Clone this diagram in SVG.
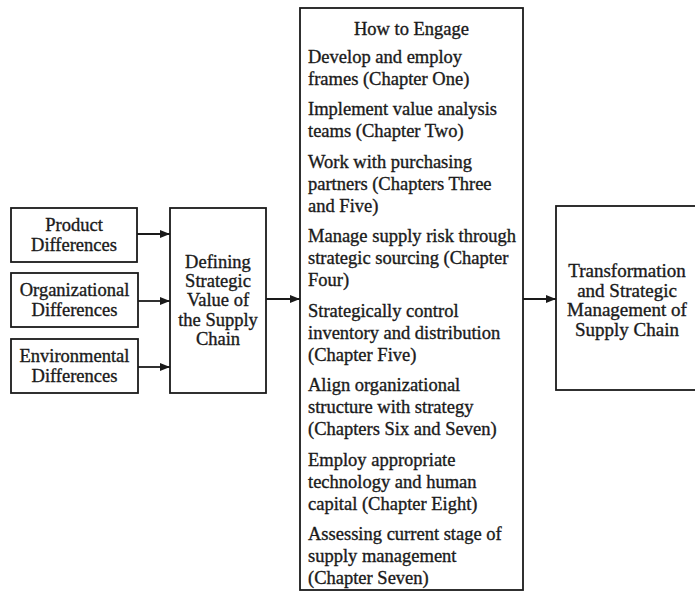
<svg xmlns="http://www.w3.org/2000/svg" width="695" height="592" viewBox="0 0 695 592">
  <style>
    .box { fill: #ffffff; stroke: #1a1a1a; stroke-width: 1.8; }
    .t { font-family: "Liberation Serif", "Times New Roman", serif; font-size: 18.5px; fill: #1a1a1a; stroke: #1a1a1a; stroke-width: 0.35; }
    .c { text-anchor: middle; }
    .big { font-size: 19px; }
    .link { stroke: #1a1a1a; stroke-width: 1.8; fill: none; marker-end: url(#arrow); }
  </style>
  <defs>
    <marker id="arrow" viewBox="0 0 10 8" refX="10" refY="4" markerWidth="10" markerHeight="8" markerUnits="userSpaceOnUse" orient="auto">
      <path d="M0,0 L10,4 L0,8 Z" fill="#1a1a1a"/>
    </marker>
  </defs>
  <rect width="695" height="592" fill="#ffffff"/>

  <!-- input factors -->
  <g id="product">
    <rect class="box" x="11" y="208" width="126" height="54"/>
    <text class="t c" x="74" y="230.5">Product</text>
    <text class="t c" x="74" y="250.5">Differences</text>
  </g>
  <g id="organizational">
    <rect class="box" x="11" y="273" width="127" height="54"/>
    <text class="t c" x="74.5" y="295.5">Organizational</text>
    <text class="t c" x="74.5" y="315.5">Differences</text>
  </g>
  <g id="environmental">
    <rect class="box" x="11" y="339" width="127" height="54"/>
    <text class="t c" x="74.5" y="361.5">Environmental</text>
    <text class="t c" x="74.5" y="381.5">Differences</text>
  </g>

  <!-- strategic value -->
  <g id="defining">
    <rect class="box" x="170" y="208" width="96" height="185"/>
    <text class="t c" x="218" y="267.5">Defining</text>
    <text class="t c" x="218" y="286.5">Strategic</text>
    <text class="t c" x="218" y="306">Value of</text>
    <text class="t c" x="218" y="325.5">the Supply</text>
    <text class="t c" x="218" y="345">Chain</text>
  </g>

  <!-- engagement list -->
  <g id="how-to-engage">
    <rect class="box" x="300" y="8" width="223" height="582"/>
    <text class="t c" x="411.5" y="34.5">How to Engage</text>
    <text class="t" x="308" y="62.5">Develop and employ</text>
    <text class="t" x="308" y="84.5">frames (Chapter One)</text>
    <text class="t" x="308" y="115">Implement value analysis</text>
    <text class="t" x="308" y="137">teams (Chapter Two)</text>
    <text class="t" x="308" y="167.5">Work with purchasing</text>
    <text class="t" x="308" y="189.5">partners (Chapters Three</text>
    <text class="t" x="308" y="211.5">and Five)</text>
    <text class="t" x="308" y="242">Manage supply risk through</text>
    <text class="t" x="308" y="264">strategic sourcing (Chapter</text>
    <text class="t" x="308" y="286">Four)</text>
    <text class="t" x="308" y="316.5">Strategically control</text>
    <text class="t" x="308" y="338.5">inventory and distribution</text>
    <text class="t" x="308" y="360.5">(Chapter Five)</text>
    <text class="t" x="308" y="391">Align organizational</text>
    <text class="t" x="308" y="413">structure with strategy</text>
    <text class="t" x="308" y="435">(Chapters Six and Seven)</text>
    <text class="t" x="308" y="465.5">Employ appropriate</text>
    <text class="t" x="308" y="487.5">technology and human</text>
    <text class="t" x="308" y="509.5">capital (Chapter Eight)</text>
    <text class="t" x="308" y="540">Assessing current stage of</text>
    <text class="t" x="308" y="562">supply management</text>
    <text class="t" x="308" y="584">(Chapter Seven)</text>
  </g>

  <!-- outcome -->
  <g id="transformation">
    <rect class="box" x="556" y="206" width="150" height="184"/>
    <text class="t c big" x="627" y="277">Transformation</text>
    <text class="t c big" x="627" y="296.5">and Strategic</text>
    <text class="t c big" x="627" y="316">Management of</text>
    <text class="t c big" x="627" y="335.5">Supply Chain</text>
  </g>

  <g id="connectors">
    <line class="link" x1="137" y1="234" x2="170" y2="234"/>
    <line class="link" x1="138" y1="301" x2="170" y2="301"/>
    <line class="link" x1="138" y1="367" x2="170" y2="367"/>
    <line class="link" x1="266" y1="299" x2="300" y2="299"/>
    <line class="link" x1="523" y1="299" x2="556" y2="299"/>
  </g>
</svg>
